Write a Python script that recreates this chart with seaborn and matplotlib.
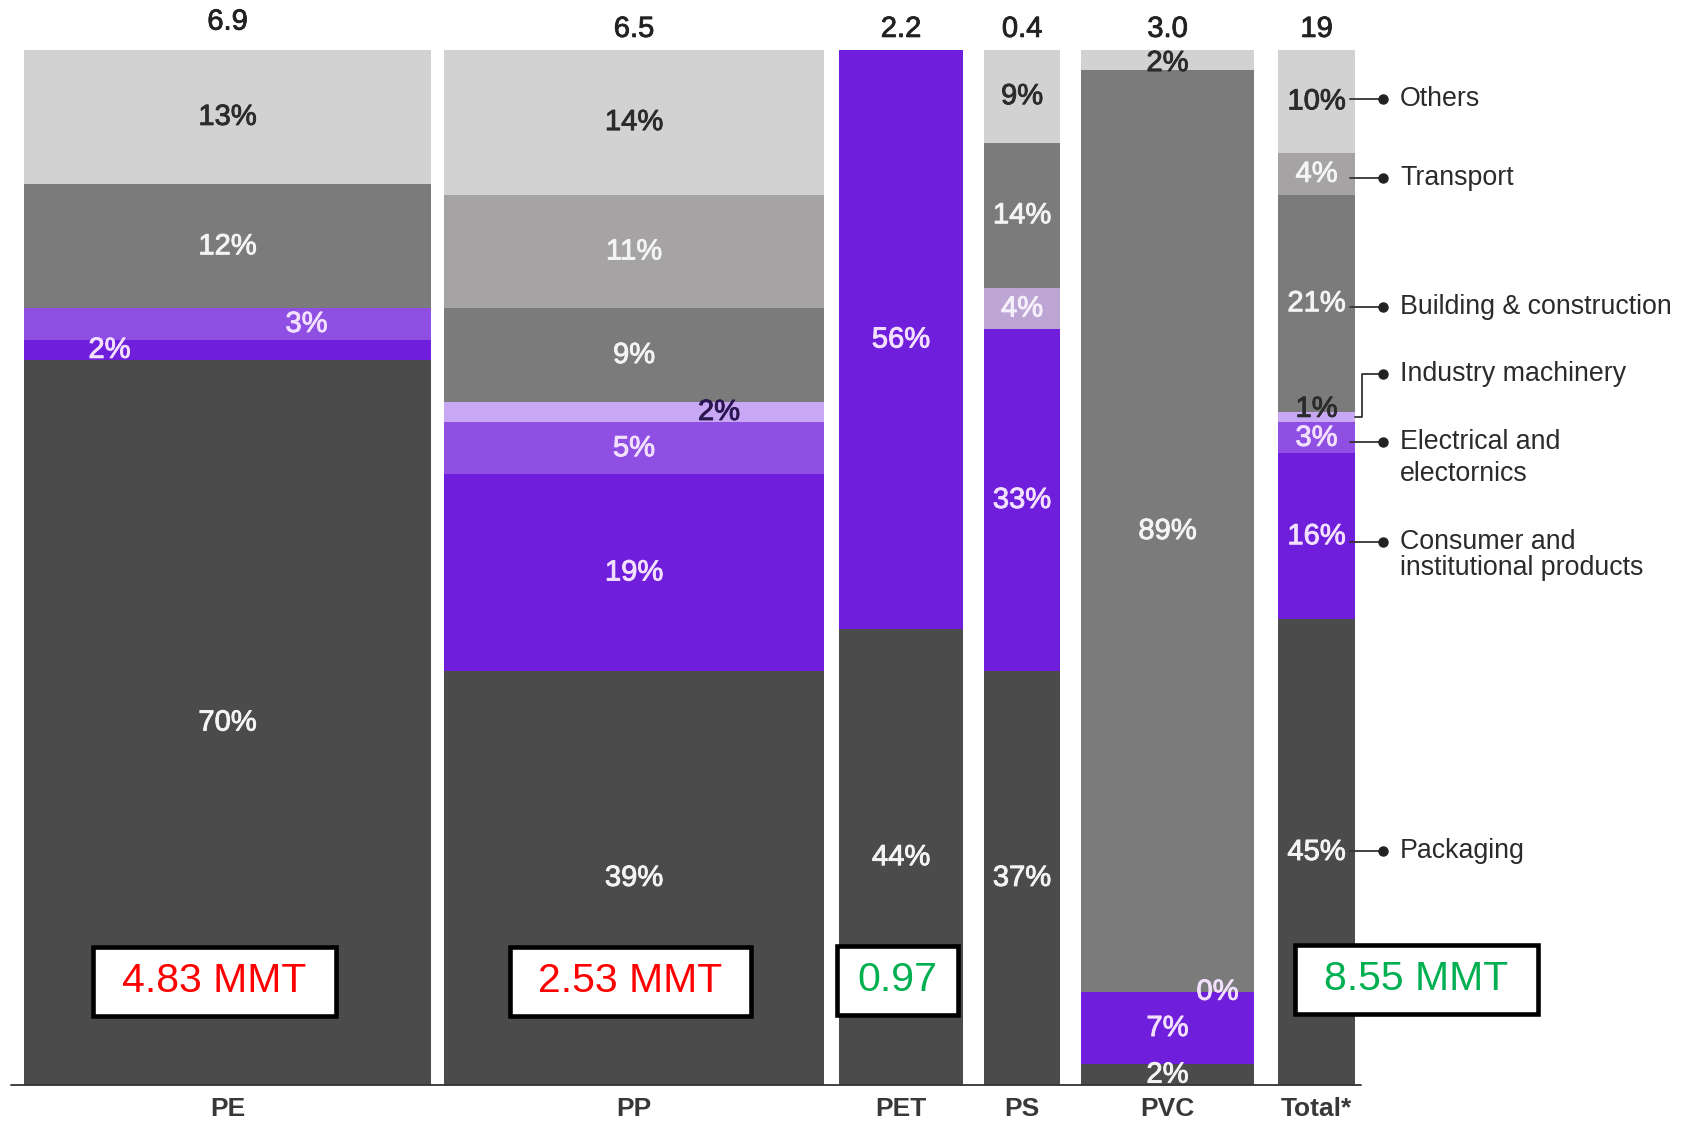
import numpy as np
import pandas as pd
import matplotlib
matplotlib.use("Agg")
import matplotlib.pyplot as plt
import matplotlib.patheffects as pe
from matplotlib.patches import Rectangle
from matplotlib.colors import to_rgba
import seaborn as sns

# ---------------- data ----------------
plastics = ["PE", "PP", "PET", "PS", "PVC", "Total*"]
volume_labels = ["6.9", "6.5", "2.2", "0.4", "3.0", "19"]
sectors = ["Packaging", "Consumer and institutional products", "Electrical and electronics",
           "Industry machinery", "Building & construction", "Transport", "Others"]
# shares in %, bottom -> top (order of `sectors`); None = not present
share_PE = [70, 2, 3, None, 12, None, 13]
share_PP = [39, 19, 5, 2, 9, 11, 14]
share_PET = [44, 56, None, None, None, None, None]
share_PS = [37, 33, 4, None, 14, None, 9]
share_PVC = [2, 7, 0, None, 89, None, 2]
share_Total = [45, 16, 3, 1, 21, 4, 10]
shares = [share_PE, share_PP, share_PET, share_PS, share_PVC, share_Total]
box_texts = ["4.83 MMT", "2.53 MMT", "0.97", None, None, "8.55 MMT"]
legend_lines = [["Packaging"], ["Consumer and", "institutional products"],
                ["Electrical and", "electornics"], ["Industry machinery"],
                ["Building & construction"], ["Transport"], ["Others"]]

# ---------------- layout / style ----------------
bar_left = [24, 444, 839, 984, 1081, 1278]
bar_width = [407, 380, 124, 76, 173, 77]
sector_colors = {"Packaging": "#4b4b4b",
                 "Consumer and institutional products": "#6f1fdb",
                 "Electrical and electronics": "#8f4fe3",
                 "Industry machinery": "#c8a8f4",
                 "Building & construction": "#7b7b7b",
                 "Transport": "#a5a3a3",
                 "Others": "#d2d2d2"}
label_colors = {"Packaging": "#f4f4f4",
                "Consumer and institutional products": "#f3e0ff",
                "Electrical and electronics": "#f3e0ff",
                "Industry machinery": "#2a1650",
                "Building & construction": "#f4f4f4",
                "Transport": "#f4f4f4",
                "Others": "#2b2b2b"}
label_color_override = {("PS", "Electrical and electronics"): "#f6f0fb",
                        ("Total*", "Industry machinery"): "#2b2b2b",
                        ("PVC", "Others"): "#2b2b2b"}
label_offset = {("PE", "Electrical and electronics"): (79, 0),
                ("PE", "Consumer and institutional products"): (-118, 0),
                ("PP", "Industry machinery"): (85, 0),
                ("PVC", "Electrical and electronics"): (50, 0.0),
                ("PVC", "Others"): (0, -0.3),
                ("Total*", "Industry machinery"): (0, 0.8)}
box_cx = [214, 630, 897, None, None, 1416]
box_w = [243, 241, 121, None, None, 243]
box_cy = [10.0, 10.0, 10.1, None, None, 10.2]
box_h = 6.6
box_colors = ["#ff0000", "#ff0000", "#00b050", None, None, "#00b050"]
top_label_y = [102.7, 102.0, 102.0, 102.0, 102.0, 102.0]
legend_x = 1400
legend_y = {"Others": 95.2, "Transport": 87.6, "Building & construction": 75.1,
            "Industry machinery": 68.65, "Electrical and electronics": 62.1,
            "Consumer and institutional products": 52.4, "Packaging": 22.6}
legend_line_h = {"Consumer and institutional products": 2.5, "Electrical and electronics": 3.1}

sns.set_theme(style="white")
plt.rcParams['font.family'] = ['Liberation Sans', 'DejaVu Sans']

fig = plt.figure(figsize=(16.91, 11.25), dpi=100)
ax = fig.add_axes([0, 0.0356, 1, 0.9203])

# build long table; the bottom (packaging) block absorbs rounding so each column fills 100%
rows = []
for p, lft, w, sh in zip(plastics, bar_left, bar_width, shares):
    rest = sum(v for v in sh[1:] if v is not None)
    for i, (s, v) in enumerate(zip(sectors, sh)):
        if v is None:
            continue
        h = 100 - rest if i == 0 else v
        rows.append({"plastic": p, "sector": s, "x": lft + w / 2, "share": v, "w": h})
df = pd.DataFrame(rows)

edges = sorted(bar_left + [l + w for l, w in zip(bar_left, bar_width)])
sns.histplot(data=df, x="x", weights="w", hue="sector", hue_order=sectors[::-1],
             palette=sector_colors, bins=edges, multiple="stack", element="bars",
             alpha=1, linewidth=0, legend=False, ax=ax)

# special tint of the PS 4% segment
ps_left = bar_left[plastics.index("PS")]
for patch in ax.patches:
    if abs(patch.get_x() - ps_left) < 1e-6 and \
            np.allclose(patch.get_facecolor(), to_rgba(sector_colors["Electrical and electronics"])):
        patch.set_facecolor("#bea6d4")

ax.set_xlim(0, 1691)
ax.set_ylim(0, 100)
ax.set_axis_off()

# segment labels
for p in plastics:
    sub = df[df.plastic == p]
    base = 0
    for _, r in sub.iterrows():
        c = base + r.w / 2
        base += r.w
        dx, dy = label_offset.get((p, r.sector), (0, 0))
        col = label_color_override.get((p, r.sector), label_colors[r.sector])
        t = ax.text(r.x + dx, c + dy, f"{r.share}%", ha="center", va="center",
                    fontsize=21, color=col)
        t.set_path_effects([pe.withStroke(linewidth=0.65, foreground=col)])

# top volume labels and x labels
for p, lft, w, v, ty in zip(plastics, bar_left, bar_width, volume_labels, top_label_y):
    t = ax.text(lft + w / 2, ty, v, ha="center", va="center", fontsize=21, color="#222222")
    t.set_path_effects([pe.withStroke(linewidth=0.6, foreground="#222222")])
    ax.text(lft + w / 2, -2.3, p, ha="center", va="center", fontsize=19,
            fontweight="bold", color="#383838", clip_on=False)

# baseline
ax.plot([11, 1361], [0, 0], color="#333333", lw=1.3, clip_on=False)

# boxes with MMT values
for txt, cx, w, cy, col in zip(box_texts, box_cx, box_w, box_cy, box_colors):
    if txt is None:
        continue
    ax.add_patch(Rectangle((cx - w / 2, cy - box_h / 2), w, box_h, facecolor="white",
                           edgecolor="black", linewidth=3.3, zorder=5))
    ax.text(cx, cy, txt, ha="center", va="center", fontsize=29.5, color=col, zorder=6)

# right-hand legend with connectors
tot_right = bar_left[-1] + bar_width[-1]
tot_sub = df[df.plastic == "Total*"]
tot_centers = dict(zip(tot_sub.sector, tot_sub.w.cumsum() - tot_sub.w / 2))
for s, lines in zip(sectors, legend_lines):
    yt = legend_y[s]
    if s == "Industry machinery":
        yc = tot_centers[s]
        ax.plot([tot_right, 1362, 1362, 1383], [yc, yc, yt, yt], color="#333333", lw=1.3)
    else:
        ax.plot([1350, 1383], [yt, yt], color="#333333", lw=1.3)
    ax.plot([1383], [yt], "o", color="#222222", ms=6.5)
    lh = legend_line_h.get(s, 3.0)
    for i, ln in enumerate(lines):
        ax.text(legend_x, yt - i * lh, ln, ha="left", va="center", fontsize=19.3, color="#2b2b2b")

fig.savefig("out.png", dpi=100)
